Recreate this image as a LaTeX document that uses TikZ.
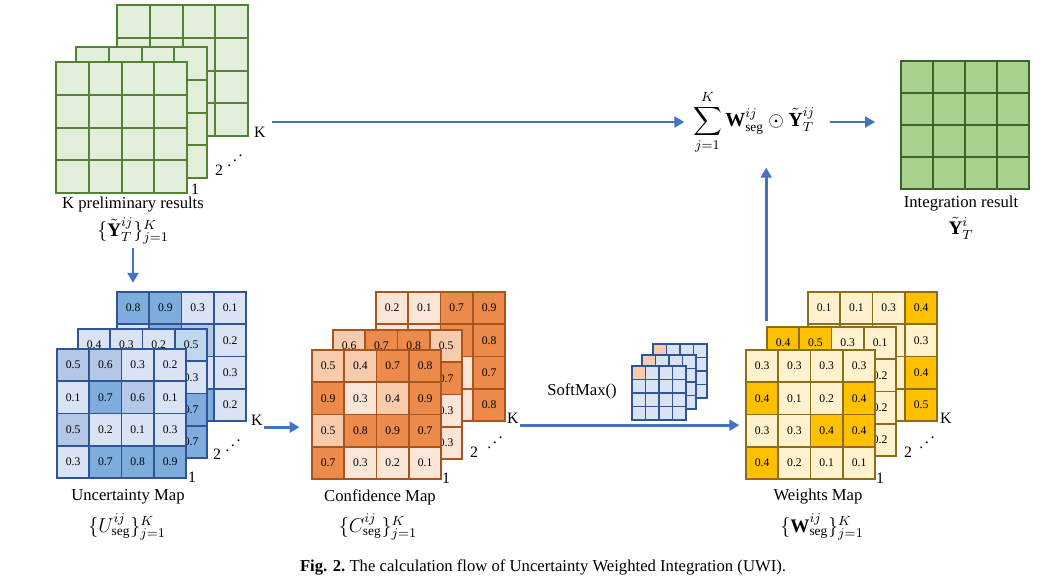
\documentclass[tikz,border=0pt]{standalone}
\usepackage{amsmath}
\usepackage{amssymb}
\usepackage{graphicx}
\usepackage{fontspec}
\setmainfont{Liberation Serif}
\usepackage{tikz}
\usetikzlibrary{arrows.meta}
\definecolor{flowblue}{HTML}{4472C4}
\definecolor{blueA}{HTML}{DAE3F3}
\definecolor{blueB}{HTML}{B4C7E7}
\definecolor{blueC}{HTML}{7DACDD}
\definecolor{blueS}{HTML}{BDD7EE}
\definecolor{blueE}{HTML}{2F5597}
\definecolor{orA}{HTML}{FBE5D6}
\definecolor{orB}{HTML}{F8CBAD}
\definecolor{orC}{HTML}{EC8A4B}
\definecolor{orE}{HTML}{A85420}
\definecolor{ylA}{HTML}{FFF2CC}
\definecolor{ylB}{HTML}{FFC000}
\definecolor{ylE}{HTML}{8C6D1A}
\definecolor{grA}{HTML}{E2EFDA}
\definecolor{grB}{HTML}{A9D18E}
\definecolor{grE}{HTML}{548235}
\definecolor{grD}{HTML}{3B6427}

% 4x4 map with a value and a tone in every cell
\newcommand{\valgrid}[6]{%
  \foreach \val/\tone [count=\n from 0] in {#6}{
    \pgfmathtruncatemacro{\rr}{div(\n,4)}
    \pgfmathtruncatemacro{\cc}{mod(\n,4)}
    \node[#5, minimum size={#4*0.6pt}, fill=\tone] (#1-\rr-\cc)
      at ({#2+(\cc+0.5)*#4},{#3+(\rr+0.5)*#4}) {\val};
  }
}
% 4x4 map without values, first cell may get its own tone
\newcommand{\plaingrid}[7]{%
  \foreach \rr in {0,...,3}{
    \foreach \cc in {0,...,3}{
      \ifnum\numexpr\rr+\cc\relax=0 \def\tone{#6}\else\def\tone{#7}\fi
      \node[#5, minimum size={#4*0.6pt}, fill=\tone] (#1-\rr-\cc)
        at ({#2+(\cc+0.5)*#4},{#3+(\rr+0.5)*#4}) {};
    }
  }
}

\begin{document}
\begin{tikzpicture}[x=0.6pt, y=-0.6pt,
  flow/.style={draw=flowblue, line width=1.7pt, -{Triangle[length=6pt, width=6.5pt]}},
  numcell/.style={line width=1pt, inner sep=0pt, font=\fontsize{7}{8}\selectfont},
  bcell/.style={numcell, draw=blueE},
  ocell/.style={numcell, draw=orE},
  ycell/.style={numcell, draw=ylE},
  gcell/.style={draw=grE, line width=1.1pt, inner sep=0pt},
  icell/.style={draw=grD, line width=1.1pt, inner sep=0pt},
  scell/.style={draw=blueE, line width=0.8pt, inner sep=0pt},
  lbl/.style={font=\fontsize{10}{12}\selectfont, inner sep=1pt},
  mlbl/.style={font=\fontsize{11.5}{13}\selectfont, inner sep=1pt},
  idx/.style={font=\fontsize{9.5}{11}\selectfont, inner sep=1pt},
]
  \useasboundingbox (0,0) rectangle (1045,587);

  % K preliminary results
  \plaingrid{gB}{117}{5}{32.8}{gcell}{grA}{grA}
  \plaingrid{gM}{76}{47}{32.8}{gcell}{grA}{grA}
  \plaingrid{gF}{56}{62}{32.8}{gcell}{grA}{grA}
  \node[idx, anchor=west] (gK) at (252,132) {K};
  \node[idx, anchor=west] (g2) at (213,170) {2};
  \node[idx] (gdots) at (235,156) {\reflectbox{$\ddots$}};
  \node[idx, anchor=west] (g1) at (189,189) {1};
  \node[lbl] (gname) at (133,205) {K preliminary results};
  \node[mlbl] (gset) at (133,231) {$\{\tilde{\mathbf{Y}}_T^{ij}\}_{j=1}^{K}$};

  % Uncertainty map
  \valgrid{bB}{117}{292}{32.3}{bcell}{
    0.8/blueC,0.9/blueC,0.3/blueA,0.1/blueA,
    {}/blueA,{}/blueC,{}/blueB,0.2/blueA,
    {}/blueA,{}/blueA,{}/blueA,0.3/blueA,
    {}/blueA,{}/blueA,{}/blueC,0.2/blueA}
  \valgrid{bM}{78}{329}{32.3}{bcell}{
    0.4/blueA,0.3/blueA,0.2/blueA,0.5/blueS,
    {}/blueA,{}/blueA,{}/blueA,0.3/blueA,
    {}/blueA,{}/blueA,{}/blueA,0.7/blueC,
    {}/blueA,{}/blueA,{}/blueA,0.7/blueC}
  \valgrid{bF}{57}{349}{32.3}{bcell}{
    0.5/blueB,0.6/blueB,0.3/blueA,0.2/blueA,
    0.1/blueA,0.7/blueC,0.6/blueB,0.1/blueA,
    0.5/blueB,0.2/blueA,0.1/blueA,0.3/blueA,
    0.3/blueA,0.7/blueC,0.8/blueC,0.9/blueC}
  \node[idx, anchor=west] (bK) at (249,420) {K};
  \node[idx, anchor=west] (b2) at (211,454) {2};
  \node[idx] (bdots) at (233,441) {\reflectbox{$\ddots$}};
  \node[idx, anchor=west] (b1) at (186,477) {1};
  \node[lbl] (bname) at (128,497) {Uncertainty Map};
  \node[mlbl] (bset) at (127,527) {$\{U_{\mathrm{seg}}^{ij}\}_{j=1}^{K}$};

  % Confidence map
  \valgrid{oB}{376}{292}{32.3}{ocell}{
    0.2/orA,0.1/orA,0.7/orC,0.9/orC,
    {}/orA,{}/orA,{}/orC,0.8/orC,
    {}/orA,{}/orA,{}/orA,0.7/orC,
    {}/orA,{}/orA,{}/orA,0.8/orC}
  \valgrid{oM}{333}{330}{32.3}{ocell}{
    0.6/orB,0.7/orC,0.8/orC,0.5/orB,
    {}/orA,{}/orA,{}/orA,0.7/orC,
    {}/orA,{}/orA,{}/orA,0.3/orA,
    {}/orA,{}/orA,{}/orA,0.3/orA}
  \valgrid{oF}{312}{350}{32.3}{ocell}{
    0.5/orB,0.4/orB,0.7/orC,0.8/orC,
    0.9/orC,0.3/orA,0.4/orB,0.9/orC,
    0.5/orB,0.8/orC,0.9/orC,0.7/orC,
    0.7/orC,0.3/orA,0.2/orA,0.1/orA}
  \node[idx, anchor=west] (oK) at (505,418) {K};
  \node[idx, anchor=west] (o2) at (468,452) {2};
  \node[idx] (odots) at (495,438) {\reflectbox{$\ddots$}};
  \node[idx, anchor=west] (o1) at (440,478) {1};
  \node[lbl] (oname) at (380,497) {Confidence Map};
  \node[mlbl] (oset) at (378,527) {$\{C_{\mathrm{seg}}^{ij}\}_{j=1}^{K}$};

  % SoftMax
  \plaingrid{sB}{653}{344}{13.5}{scell}{orB}{blueA}
  \plaingrid{sM}{642}{355}{13.5}{scell}{orB}{blueA}
  \plaingrid{sF}{632}{366}{13.5}{scell}{orB}{blueA}
  \node[lbl] (smax) at (582,391) {SoftMax()};

  % Weights map
  \valgrid{yB}{808}{292}{32.3}{ycell}{
    0.1/ylA,0.1/ylA,0.3/ylA,0.4/ylB,
    {}/ylA,{}/ylA,{}/ylA,0.3/ylA,
    {}/ylA,{}/ylA,{}/ylA,0.4/ylB,
    {}/ylA,{}/ylA,{}/ylA,0.5/ylB}
  \valgrid{yM}{767}{327}{32.3}{ycell}{
    0.4/ylB,0.5/ylB,0.3/ylA,0.1/ylA,
    {}/ylA,{}/ylA,{}/ylA,0.2/ylA,
    {}/ylA,{}/ylA,{}/ylA,0.2/ylA,
    {}/ylA,{}/ylA,{}/ylA,0.2/ylA}
  \valgrid{yF}{746}{350}{32.3}{ycell}{
    0.3/ylA,0.3/ylA,0.3/ylA,0.3/ylA,
    0.4/ylB,0.1/ylA,0.2/ylA,0.4/ylB,
    0.3/ylA,0.3/ylA,0.4/ylB,0.4/ylB,
    0.4/ylB,0.2/ylA,0.1/ylA,0.1/ylA}
  \node[idx, anchor=west] (yK) at (938,418) {K};
  \node[idx, anchor=west] (y2) at (902,452) {2};
  \node[idx] (ydots) at (927,438) {\reflectbox{$\ddots$}};
  \node[idx, anchor=west] (y1) at (874,478) {1};
  \node[lbl] (yname) at (818,497) {Weights Map};
  \node[mlbl] (yset) at (822,527) {$\{\mathbf{W}_{\mathrm{seg}}^{ij}\}_{j=1}^{K}$};

  % Weighted sum and integration result
  \node[font=\fontsize{12}{14}\selectfont, inner sep=0pt] (fuse) at (754,122)
    {$\displaystyle\sum_{j=1}^{K}\mathbf{W}_{\mathrm{seg}}^{ij}\odot\tilde{\mathbf{Y}}_{T}^{ij}$};
  \plaingrid{iG}{901}{61}{32}{icell}{grB}{grB}
  \node[lbl] (iname) at (961,204) {Integration result};
  \node[mlbl] (iset) at (961,228) {$\tilde{\mathbf{Y}}_T^{i}$};

  % Flow
  \draw[flow, shorten <=3pt, shorten >=5pt] (gK.east |- fuse.west) -- (fuse.west);
  \draw[flow, shorten <=9pt, shorten >=15pt] (fuse.east) -- (fuse.east -| iG-1-0.west);
  \draw[flow, shorten <=1pt, shorten >=5pt] (gset.south) -- (gset.south |- bB-0-0.north);
  \draw[flow, shorten >=7pt] (bK.south east) -- (bK.south east -| oF-0-0.west);
  \draw[flow, shorten >=3.5pt] (oK.south east) -- (oK.south east -| yF-0-0.west);
  \draw[flow, shorten <=3pt, shorten >=8pt] (yM-0-0.north west) -- (yM-0-0.north west |- fuse.south);

  \node[font=\fontsize{10}{12}\selectfont] (cap) at (543,567)
    {\textbf{Fig. 2.}\ The calculation flow of Uncertainty Weighted Integration (UWI).};
\end{tikzpicture}
\end{document}
